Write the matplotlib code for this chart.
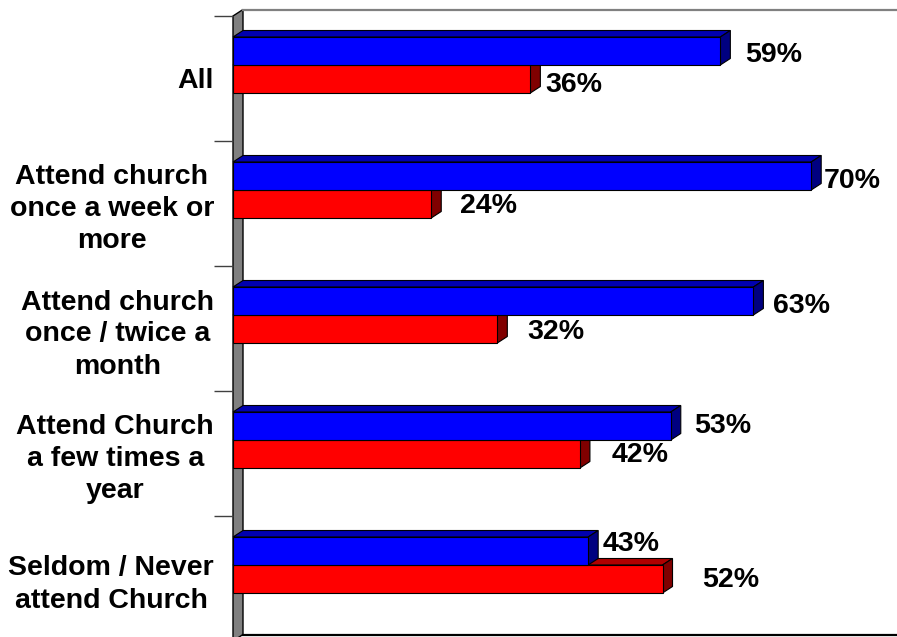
import matplotlib
matplotlib.use("Agg")
import matplotlib.pyplot as plt
from matplotlib.patches import Polygon, Rectangle

plt.rcParams['font.family'] = ['Liberation Sans', 'DejaVu Sans']

# ---- data ----
categories = [
    "All",
    "Attend church\nonce a week or\nmore",
    "Attend church\nonce / twice a\nmonth",
    "Attend Church\na few times a\nyear",
    "Seldom / Never\nattend Church",
]
blue_values = [59, 70, 63, 53, 43]
red_values = [36, 24, 32, 42, 52]

# ---- style ----
W, H, DPI = 897, 637, 100
PX_PER_UNIT_X = 8.26      # pixels per percentage point
PX_PER_CAT = 125.0        # pixels per category band
DEPTH_X_PX, DEPTH_Y_PX = 10.0, 6.5
FS = 20.5
# label offsets (pixels: right gap from bar back, upward shift)
blue_label_off = [(15, -1), (3, -2), (10, -2), (13, 3), (4, 10)]
red_label_off = [(5, -3), (19, 1), (20, 0), (22, 2), (30, 2)]

fig = plt.figure(figsize=(W / DPI, H / DPI), dpi=DPI)
front_left, front_top = 233, 16
ax = fig.add_axes([front_left / W, (H - (front_top + 5 * PX_PER_CAT)) / H,
                   (W - front_left) / W, 5 * PX_PER_CAT / H])
xmax = (W - front_left) / PX_PER_UNIT_X
ax.set_xlim(0, xmax)
ax.set_ylim(4.5, -0.5)
for s in ax.spines.values():
    s.set_visible(False)

DX = DEPTH_X_PX / PX_PER_UNIT_X
DY = DEPTH_Y_PX / PX_PER_CAT

# left wall
ax.add_patch(Polygon([(0, -0.5), (DX, -0.5 - DY), (DX, 4.5 - DY), (0, 4.5)],
                     closed=True, fc='#808080', ec='black', lw=1.0,
                     clip_on=False, zorder=1))
# back plane border lines
ax.plot([DX, xmax + 5], [-0.5 - DY] * 2, color='#808080', lw=1.6,
        clip_on=False, zorder=1)
ax.plot([DX, xmax + 5], [4.5 - DY] * 2, color='black', lw=1.6,
        clip_on=False, zorder=1)


def bar3d(v, y0, y1, front, top, side, z):
    kw = dict(ec='black', lw=0.8, clip_on=False, zorder=z)
    ax.add_patch(Polygon([(0, y0), (DX, y0 - DY), (v + DX, y0 - DY), (v, y0)],
                         closed=True, fc=top, **kw))
    ax.add_patch(Polygon([(v, y0), (v + DX, y0 - DY), (v + DX, y1 - DY), (v, y1)],
                         closed=True, fc=side, **kw))
    ax.add_patch(Rectangle((0, y0), v, y1 - y0, fc=front, **kw))


bh = 28 / PX_PER_CAT
b_top = -0.332
z = 2
for i in range(len(categories)):
    rv, bv = red_values[i], blue_values[i]
    by0 = i + b_top
    ry0 = by0 + bh
    bar3d(rv, ry0, ry0 + bh, '#FF0000', '#B00000', '#800000', z)
    z += 1
    bar3d(bv, by0, by0 + bh, '#0000FF', '#0000B0', '#000080', z)
    z += 1

for i in range(len(categories)):
    by0 = i + b_top
    ry0 = by0 + bh
    for v, y, off in ((blue_values[i], by0 + bh / 2, blue_label_off[i]),
                      (red_values[i], ry0 + bh / 2, red_label_off[i])):
        ax.annotate(f"{v}%", xy=(v + DX, y), xytext=(off[0] * 72 / DPI, off[1] * 72 / DPI),
                    textcoords='offset points', ha='left', va='center_baseline',
                    fontsize=FS, fontweight='bold', zorder=50, annotation_clip=False)

ax.set_xticks([])
ax.set_yticks(range(len(categories)))
ax.set_yticklabels(categories, fontsize=FS, fontweight='bold')
ax.set_yticks([i - 0.5 for i in range(len(categories) + 1)], minor=True)
ax.tick_params(axis='y', which='major', length=0, pad=19 * 72 / DPI)
ax.tick_params(axis='y', which='minor', length=19 * 72 / DPI, width=1.0,
               color='#404040', direction='out')
for t in ax.get_yticklabels():
    t.set_multialignment('center')
    t.set_linespacing(1.3)

fig.savefig("out.png", dpi=DPI)
